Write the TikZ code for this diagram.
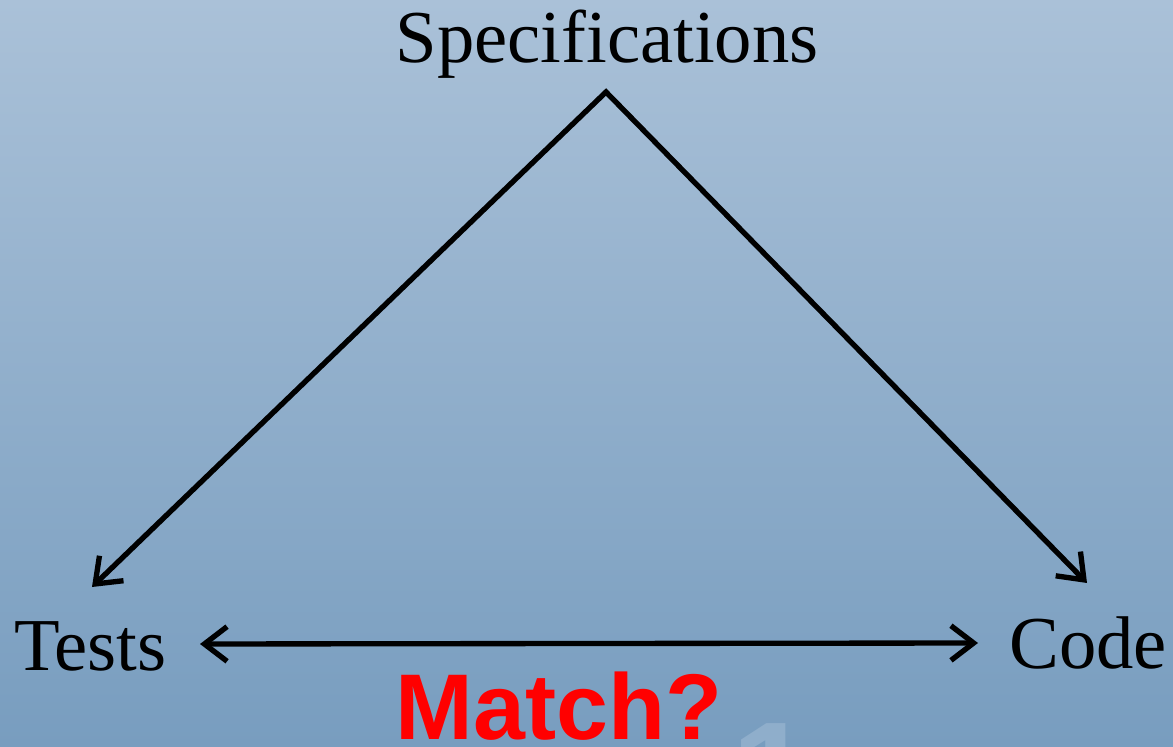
\documentclass[tikz,border=0pt]{standalone}
\usepackage{fontspec}
\setmainfont{Liberation Serif}
\newfontfamily\arialfont{Liberation Sans}
\usetikzlibrary{arrows.meta}
\definecolor{bgtop}{RGB}{170,193,216}
\definecolor{bgbot}{RGB}{120,157,191}
\definecolor{faint}{RGB}{143,174,203}
\definecolor{matchred}{RGB}{255,0,0}
\tikzset{
  lbl/.style={inner sep=0pt, anchor=base, font=\fontsize{56}{62}\selectfont, text=black},
  conn/.style={line width=4pt, black, miter limit=10,
    {Straight Barb[length=17pt,width=26pt,line width=4pt]}-{Straight Barb[length=17pt,width=26pt,line width=4pt]}}
}
\begin{document}
\begin{tikzpicture}[x=0.75pt,y=0.75pt]
\useasboundingbox (0,0) rectangle (1173,746);
\clip (0,0) rectangle (1173,746);
\shade[top color=bgtop, bottom color=bgbot] (0,0) rectangle (1173,746);
\node[inner sep=0pt, anchor=base, text=faint, font=\arialfont\bfseries\fontsize{110}{120}\selectfont] (num) at (772,-78) {1};
\node[lbl] (spec) at (607,683) {Specifications};
\node[lbl, anchor=base west] (tests) at (14,76) {Tests};
\node[lbl, anchor=base west] (code) at (1009,78) {Code};
\node[inner sep=0pt, anchor=base, text=matchred, font=\arialfont\bfseries\fontsize{70}{80}\selectfont] (match) at (559,7) {Match?};
\coordinate (apex) at (606,654);
\coordinate (tl) at (92,159);
\coordinate (tr) at (1087,163);
\coordinate (hl) at (200,102);
\coordinate (hr) at (978,103);
\draw[conn] (tl) -- (apex) -- (tr);
\draw[conn] (hl) -- (hr);
\end{tikzpicture}
\end{document}
